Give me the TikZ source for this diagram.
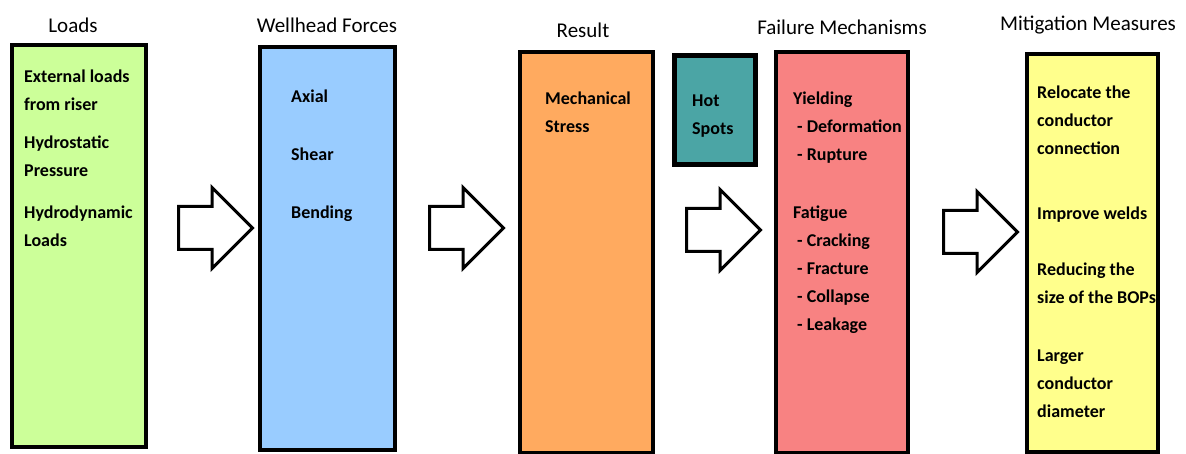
\documentclass[tikz,border=0pt]{standalone}
\usepackage{fontspec}
\setmainfont{Carlito}
\usetikzlibrary{shapes.arrows}

\definecolor{loadgreen}{RGB}{204,255,153}
\definecolor{forceblue}{RGB}{153,204,255}
\definecolor{resultorange}{RGB}{255,170,95}
\definecolor{hotteal}{RGB}{75,165,165}
\definecolor{failred}{RGB}{248,130,130}
\definecolor{mityellow}{RGB}{255,255,140}

\tikzset{
  stagebox/.style={draw=black, line width=4pt, inner sep=0pt},
  heading/.style={font=\fontsize{21}{25}\selectfont},
  boxtext/.style={anchor=north west, align=left, inner sep=0pt, font=\fontsize{18}{28}\selectfont\bfseries},
  bigarrow/.style={single arrow, draw=black, fill=white, line width=3pt, inner xsep=0pt, inner ysep=20pt,
    minimum height=74pt, single arrow head extend=19pt, anchor=tail},
}

\begin{document}
\begin{tikzpicture}[x=1pt, y=-1pt]
\useasboundingbox (0,0) rectangle (1186,454);

% Loads
\node[heading] (loadstitle) at (73,25) {Loads};
\node[stagebox, fill=loadgreen, minimum width=134pt, minimum height=402pt] (loads) at (79,246) {};
\node[boxtext] (loadstext) at (24,70) {External loads\\from riser\\[10pt]Hydrostatic\\Pressure\\[14pt]Hydrodynamic\\Loads};

% Arrow
\node[bigarrow] (arrowa) at (177,228) {};

% Wellhead forces
\node[heading] (forcestitle) at (327,25) {Wellhead Forces};
\node[stagebox, fill=forceblue, minimum width=135pt, minimum height=403pt] (forces) at (327.5,248.5) {};
\node[boxtext] (forcestext) at (291,90) {Axial\\[30pt]Shear\\[30pt]Bending};

% Arrow
\node[bigarrow] (arrowb) at (428,228) {};

% Result
\node[heading] (resulttitle) at (583,30) {Result};
\node[stagebox, fill=resultorange, minimum width=133pt, minimum height=401pt] (result) at (586.5,252.5) {};
\node[boxtext] (resulttext) at (545,92) {Mechanical\\Stress};

% Hot spots
\node[stagebox, line width=5pt, fill=hotteal, minimum width=81pt, minimum height=109pt] (hotspots) at (715,110) {};
\node[boxtext] (hottext) at (692,95) {Hot\\Spots};

% Arrow
\node[bigarrow] (arrowc) at (685,230) {};

% Failure mechanisms
\node[heading] (failtitle) at (842,27) {Failure Mechanisms};
\node[stagebox, fill=failred, minimum width=132pt, minimum height=401pt] (failure) at (842,252.5) {};
\node[boxtext] (failtext) at (793,92) {Yielding\\\hspace*{4pt}- Deformation\\\hspace*{4pt}- Rupture\\[30pt]%
  Fatigue\\\hspace*{4pt}- Cracking\\\hspace*{4pt}- Fracture\\\hspace*{4pt}- Collapse\\\hspace*{4pt}- Leakage};

% Arrow
\node[bigarrow] (arrowd) at (942,232) {};

% Mitigation measures
\node[heading] (mittitle) at (1088,25) {Mitigation Measures};
\node[stagebox, fill=mityellow, minimum width=131pt, minimum height=398pt] (mitigation) at (1092.5,253) {};
\node[boxtext] (mittext) at (1037,86) {Relocate the\\conductor\\connection\\[37pt]Improve welds\\[28pt]%
  Reducing the\\size of the BOPs\\[30pt]Larger\\conductor\\diameter};

\end{tikzpicture}
\end{document}
